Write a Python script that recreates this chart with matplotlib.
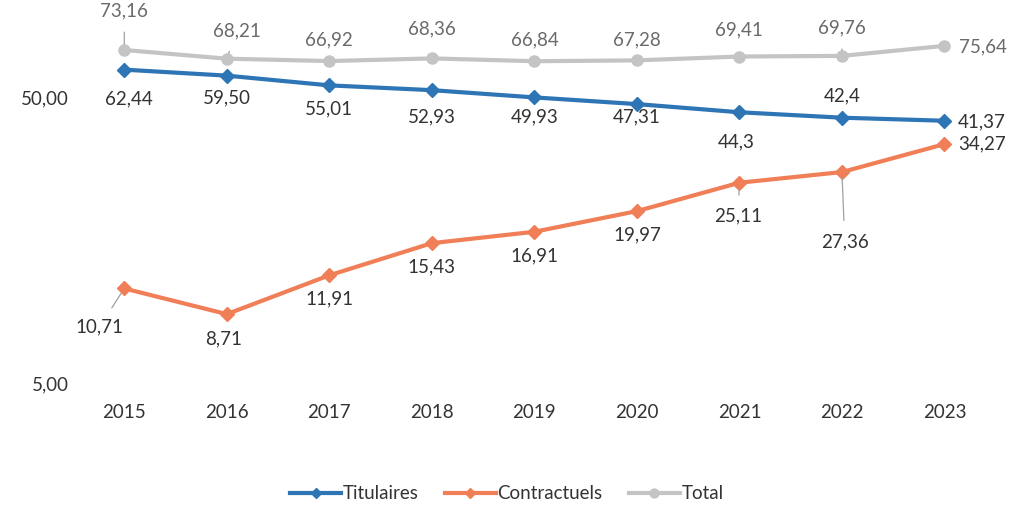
import matplotlib.pyplot as plt

# Effectifs par statut, 2015-2023
annees = ["2015", "2016", "2017", "2018", "2019", "2020", "2021", "2022", "2023"]
titulaires = [62.44, 59.50, 55.01, 52.93, 49.93, 47.31, 44.3, 42.4, 41.37]
contractuels = [10.71, 8.71, 11.91, 15.43, 16.91, 19.97, 25.11, 27.36, 34.27]
total = [73.16, 68.21, 66.92, 68.36, 66.84, 67.28, 69.41, 69.76, 75.64]

# texte des étiquettes tel qu'affiché
lab_tit = ["62,44", "59,50", "55,01", "52,93", "49,93", "47,31", "44,3", "42,4", "41,37"]
lab_con = ["10,71", "8,71", "11,91", "15,43", "16,91", "19,97", "25,11", "27,36", "34,27"]
lab_tot = ["73,16", "68,21", "66,92", "68,36", "66,84", "67,28", "69,41", "69,76", "75,64"]

# décalages des étiquettes (points) et traits de rappel
off_tit = [(3, -21), (0, -16), (0, -17), (0, -19), (0, -14), (0, -9), (-2, -21), (0, 16), (27, -1)]
off_con = [(-18, -28), (-2, -18), (0, -17), (0, -17), (0, -17), (0, -17), (-1, -24), (2, -50), (27, 0)]
off_tot = [(0, 28), (7, 20), (0, 15), (0, 21), (0, 15), (0, 15), (0, 19), (0, 20), (28, -1)]
lead_tit = [False] * 9
lead_con = [True, False, False, False, False, False, True, True, False]
lead_tot = [True, True, False, False, False, False, False, True, False]

plt.rcParams['font.family'] = ['Lato', 'DejaVu Sans']

fig = plt.figure(figsize=(10.14, 5.09), dpi=100)
ax = fig.add_axes([0.072, 0.2475, 0.91, 0.7305])

x = list(range(len(annees)))
blue = "#2e75b6"
orange = "#f07f57"
grey = "#c4c4c4"

ax.plot(x, titulaires, color=blue, lw=3, marker="D", ms=7, label="Titulaires")
ax.plot(x, contractuels, color=orange, lw=3, marker="D", ms=7, label="Contractuels")
ax.plot(x, total, color=grey, lw=3, marker="o", ms=8, label="Total")


def labels(vals, texts, offs, leads, color):
    for i, (v, t, o, l) in enumerate(zip(vals, texts, offs, leads)):
        ap = dict(arrowstyle="-", color="#a0a0a0", lw=0.9, shrinkA=7, shrinkB=4) if l else None
        ax.annotate(t, (i, v), xytext=o, textcoords="offset points",
                    ha="center", va="center", fontsize=13.5, color=color,
                    arrowprops=ap)


labels(titulaires, lab_tit, off_tit, lead_tit, "#333333")
labels(contractuels, lab_con, off_con, lead_con, "#333333")
labels(total, lab_tot, off_tot, lead_tot, "#6a6a6a")

ax.set_yscale("log")
ax.set_ylim(5, 100)
ax.set_xlim(-0.5, len(annees) - 0.5)
ax.set_yticks([5, 50])
ax.set_yticklabels(["5,00", "50,00"])
ax.minorticks_off()
ax.set_xticks(x)
ax.set_xticklabels(annees)
ax.tick_params(length=0, labelsize=13.5, labelcolor="#333333")
ax.tick_params(axis="x", pad=15)
ax.tick_params(axis="y", pad=3)
for s in ax.spines.values():
    s.set_visible(False)

fig.legend(loc="lower center", bbox_to_anchor=(0.5, -0.02), ncol=3, frameon=False,
           fontsize=13.5, handlelength=2.7, columnspacing=1.4, handletextpad=0.1,
           markerscale=0.8, labelcolor="#333333")

fig.savefig("out.png", dpi=100)
